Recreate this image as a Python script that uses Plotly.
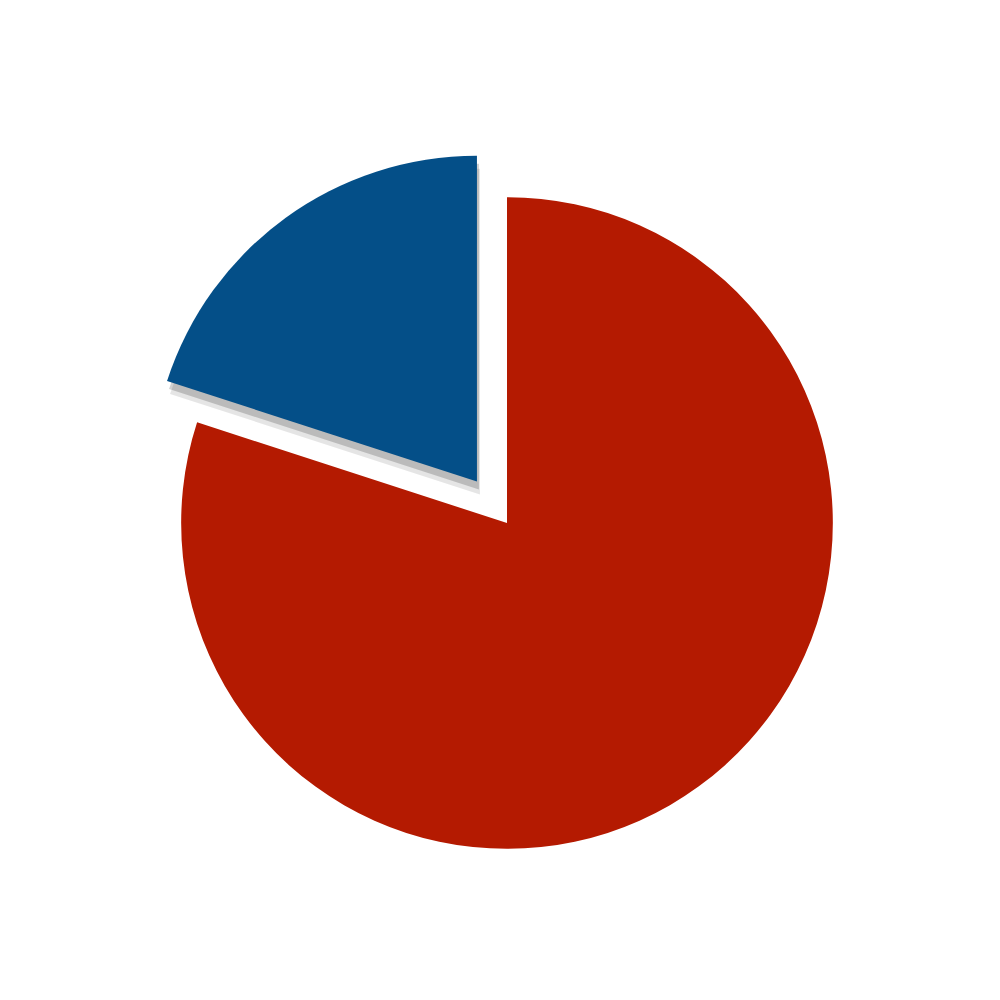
import plotly.graph_objects as go

# two-slice pie, blue slice pulled out (red drawn first, clockwise from 12 o'clock)
labels = ['Red', 'Blue']
values = [80, 20]
colors = ['#b41a01', '#044f88']
pull = [0, 0.157]

dom_x = [0.122, 0.876]
dom_y = [0.108, 0.862]

fig = go.Figure()

# soft grey shadow under the pulled slice, mostly below it
for dx, dy, a in [(0.002, 0.008, 0.18), (0.003, 0.013, 0.10)]:
    fig.add_trace(go.Pie(labels=labels, values=values, sort=False,
                         direction='clockwise', rotation=0,
                         pull=pull, textinfo='none', hoverinfo='skip',
                         marker=dict(colors=['rgba(0,0,0,0)', 'rgba(0,0,0,%s)' % a],
                                     line=dict(width=0)),
                         domain=dict(x=[dom_x[0] + dx, dom_x[1] + dx],
                                     y=[dom_y[0] - dy, dom_y[1] - dy]),
                         showlegend=False))

fig.add_trace(go.Pie(labels=labels, values=values, sort=False,
                     direction='clockwise', rotation=0,
                     pull=pull, textinfo='none',
                     marker=dict(colors=colors, line=dict(width=0)),
                     domain=dict(x=dom_x, y=dom_y),
                     showlegend=False))

fig.update_layout(width=1000, height=1000,
                  margin=dict(l=0, r=0, t=0, b=0),
                  paper_bgcolor='white', plot_bgcolor='white')

fig.write_html("out.html")
